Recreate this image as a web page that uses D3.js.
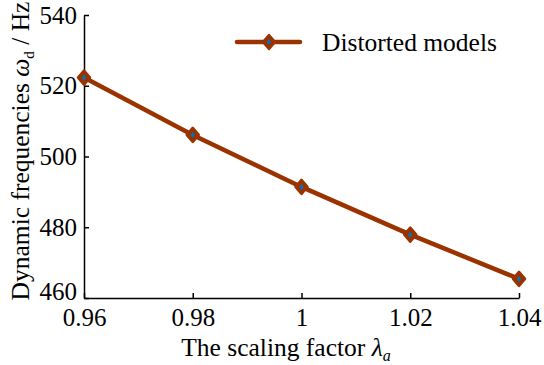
<!DOCTYPE html>
<html>
    <head>
        <script src="https://d3js.org/d3.v7.min.js"></script>
        <style>
            body { margin:0; background:white; }
            svg { font-family:"Liberation Serif", "Times New Roman", serif; }
            .axis path, .axis line { stroke:black; stroke-width:1.5; }
            .axis text { font-family:"Liberation Serif", "Times New Roman", serif; font-size:25px; fill:black; }
        </style>
    </head>
    <body>
        <svg width="544" height="365"></svg>
    </body>
    <script>
        // data
        const scalingFactors = [0.96, 0.98, 1.00, 1.02, 1.04];
        const frequencies = [522.3, 506.1, 491.4, 477.9, 465.4];
        const xTicks = [0.96, 0.98, 1.00, 1.02, 1.04];
        const yTicks = [460, 480, 500, 520, 540];
        const seriesName = 'Distorted models';

        const lineColor = '#9a3300';
        const dotColor = '#0072bd';

        const svg = d3.select('svg');
        const margin = { top:15, left:84, right:25, bottom:67 };
        const innerWidth = 544 - margin.left - margin.right;
        const innerHeight = 365 - margin.top - margin.bottom;

        const xScale = d3.scaleLinear().domain([0.96, 1.04]).range([0, innerWidth]);
        const yScale = d3.scaleLinear().domain([460, 540]).range([innerHeight, 0]);

        const g = svg.append('g')
                     .attr('transform', `translate(${margin.left},${margin.top})`);

        // axes, ticks pointing inward
        const xAxis = d3.axisBottom(xScale).tickValues(xTicks).tickSizeInner(-5).tickSizeOuter(0)
                        .tickPadding(10).tickFormat(d => d3.format('')(+d.toFixed(2)));
        g.append('g').attr('class','axis')
            .attr('transform', `translate(0,${innerHeight})`)
            .call(xAxis)
            .attr('font-family', null).attr('font-size', null);
        const yAxis = d3.axisLeft(yScale).tickValues(yTicks).tickSizeInner(-5).tickSizeOuter(0)
                        .tickPadding(7);
        const yg = g.append('g').attr('class','axis').call(yAxis)
            .attr('font-family', null).attr('font-size', null);
        // bottom label sits a little higher in the original
        yg.selectAll('.tick text').filter(d => d === 460).attr('dy', '0.05em');

        // line
        const line = d3.line().x((d, i) => xScale(scalingFactors[i])).y(d => yScale(d));
        g.append('path')
            .datum(frequencies)
            .attr('d', line)
            .attr('fill', 'none')
            .attr('stroke', lineColor)
            .attr('stroke-width', 4.5)
            .attr('stroke-linejoin', 'round');

        function drawMarker(sel) {
            sel.append('path')
                .attr('d', 'M0,-7 L6,0 L0,7 L-6,0Z')
                .attr('fill', lineColor)
                .attr('stroke', lineColor)
                .attr('stroke-width', 2.5)
                .attr('stroke-linejoin', 'round');
            sel.append('path')
                .attr('d', 'M0,-3 L2.2,0 L0,3 L-2.2,0Z')
                .attr('fill', dotColor);
        }

        g.selectAll('.marker')
            .data(frequencies)
            .enter().append('g')
            .attr('class', 'marker')
            .attr('transform', (d, i) => `translate(${xScale(scalingFactors[i])},${yScale(d)})`)
            .call(drawMarker);

        // legend
        const legend = svg.append('g').attr('transform', 'translate(237,42)');
        legend.append('line')
            .attr('x1', 0).attr('x2', 63)
            .attr('stroke', lineColor).attr('stroke-width', 4.5)
            .attr('stroke-linecap', 'round');
        legend.append('g').attr('transform', 'translate(32,0)').call(drawMarker);
        legend.append('text')
            .attr('x', 85).attr('y', 0)
            .attr('dy', '0.35em')
            .style('font-size', '25.5px')
            .text(seriesName);

        // axis titles
        const xTitle = svg.append('text')
            .attr('x', 286).attr('y', 356)
            .style('font-size', '25.5px')
            .style('text-anchor', 'middle');
        xTitle.append('tspan').text('The scaling factor ');
        xTitle.append('tspan').style('font-style', 'italic').text('λ');
        xTitle.append('tspan').style('font-style', 'italic').style('font-size', '16px')
            .attr('dy', 5).text('a');

        const yTitle = svg.append('text')
            .attr('transform', 'translate(29,151) rotate(-90)')
            .style('font-size', '25.5px')
            .style('text-anchor', 'middle');
        yTitle.append('tspan').text('Dynamic frequencies ');
        yTitle.append('tspan').style('font-style', 'italic').text('ω');
        yTitle.append('tspan').style('font-size', '15px').attr('dy', 5).text('d');
        yTitle.append('tspan').attr('dy', -5).text(' / Hz');
    </script>
</html>
